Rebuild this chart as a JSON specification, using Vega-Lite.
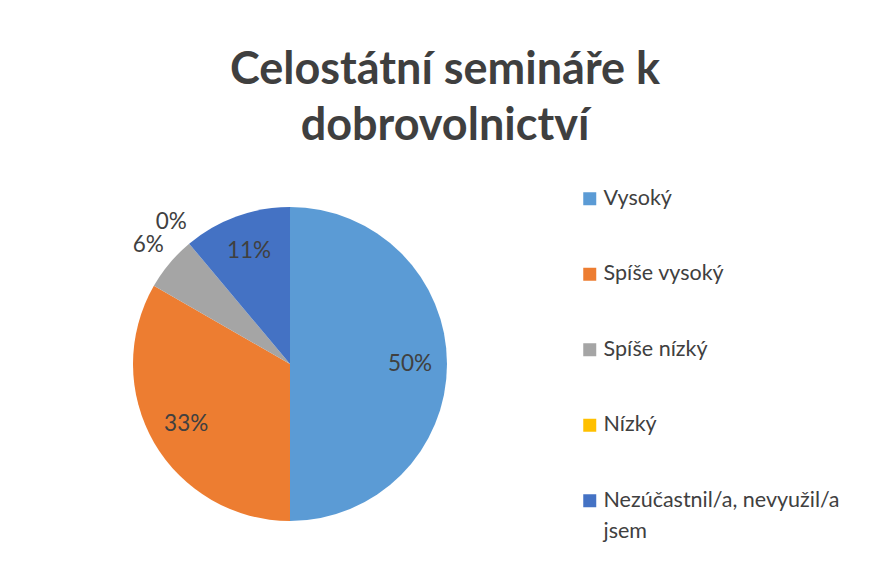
{
  "$schema": "https://vega.github.io/schema/vega-lite/v6.json",
  "autosize": {"type": "none"},
  "width": 314,
  "height": 314,
  "padding": {"left": 133, "top": 207, "right": 422, "bottom": 48},
  "background": "white",
  "config": {"view": {"stroke": null}, "font": "Lato"},
  "title": {
    "text": ["Celostátní semináře k", "dobrovolnictví"],
    "font": "Lato",
    "fontSize": 45,
    "fontWeight": "bold",
    "color": "#3F3F3F",
    "anchor": "middle",
    "dx": 155,
    "lineHeight": 56,
    "offset": 30
  },
  "data": {
    "values": [
      {"i": 1, "kategorie": "Vysoký", "podil": 0.5},
      {"i": 2, "kategorie": "Spíše vysoký", "podil": 0.333},
      {"i": 3, "kategorie": "Spíše nízký", "podil": 0.056},
      {"i": 4, "kategorie": "Nízký", "podil": 0.0},
      {"i": 5, "kategorie": "Nezúčastnil/a, nevyužil/a jsem", "podil": 0.111}
    ]
  },
  "encoding": {
    "theta": {"field": "podil", "type": "quantitative", "stack": true},
    "order": {"field": "i", "type": "quantitative"}
  },
  "layer": [
    {
      "mark": {"type": "arc", "outerRadius": 157},
      "encoding": {
        "color": {
          "field": "kategorie",
          "type": "nominal",
          "sort": ["Vysoký", "Spíše vysoký", "Spíše nízký", "Nízký", "Nezúčastnil/a, nevyužil/a jsem"],
          "scale": {
            "domain": ["Vysoký", "Spíše vysoký", "Spíše nízký", "Nízký", "Nezúčastnil/a, nevyužil/a jsem"],
            "range": ["#5B9BD5", "#ED7D31", "#A5A5A5", "#FFC000", "#4472C4"]
          },
          "legend": {
            "title": null,
            "orient": "none",
            "legendX": 446,
            "legendY": -19,
            "symbolType": "square",
            "symbolSize": 169,
            "symbolStrokeWidth": 0,
            "labelFont": "Lato",
            "labelFontSize": 21.5,
            "labelColor": "#404040",
            "labelOffset": 3,
            "labelLimit": 400,
            "rowPadding": 52.5,
            "labelExpr": "datum.label == 'Nezúčastnil/a, nevyužil/a jsem' ? ['Nezúčastnil/a, nevyužil/a', 'jsem'] : datum.label",
            "encode": {"labels": {"update": {"lineHeight": {"value": 31}}}}
          }
        }
      }
    },
    {
      "mark": {"type": "text", "radius": 120, "font": "Lato", "fontSize": 22.5, "color": "#404040"},
      "encoding": {
        "text": {
          "condition": {"test": "datum.podil >= 0.1", "field": "podil", "type": "quantitative", "format": ".0%"},
          "value": ""
        }
      }
    },
    {
      "mark": {"type": "text", "radius": 185, "font": "Lato", "fontSize": 22.5, "color": "#404040"},
      "encoding": {
        "text": {
          "condition": {"test": "datum.podil < 0.1", "field": "podil", "type": "quantitative", "format": ".0%"},
          "value": ""
        }
      }
    }
  ]
}
